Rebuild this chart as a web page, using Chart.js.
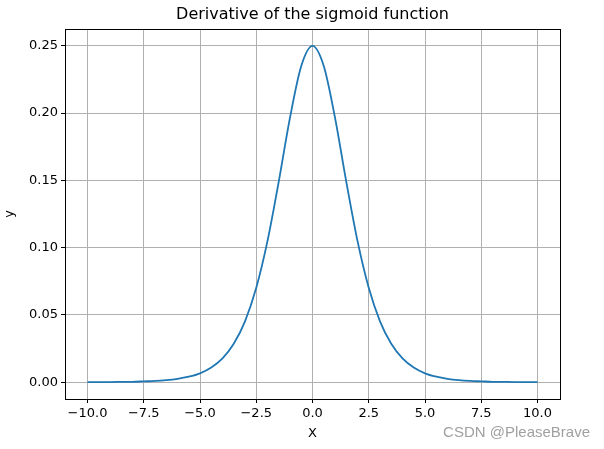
<!DOCTYPE html>
<html>
<head>
<meta charset="utf-8">
<script src="https://cdn.jsdelivr.net/npm/chart.js@4"></script>
<style>
  html, body { margin: 0; padding: 0; background: #fff; }
  #wrap { width: 604px; height: 449px; }
</style>
</head>
<body>
<div id="wrap"><canvas id="chart" width="604" height="449"></canvas></div>
<script>
const xValues = [-10, -9.5, -9, -8.5, -8, -7.5, -7, -6.5, -6, -5.5, -5, -4.5, -4, -3.5, -3, -2.5, -2, -1.5, -1, -0.5,
  0, 0.5, 1, 1.5, 2, 2.5, 3, 3.5, 4, 4.5, 5, 5.5, 6, 6.5, 7, 7.5, 8, 8.5, 9, 9.5, 10];
const yValues = [0.0000, 0.0001, 0.0001, 0.0002, 0.0003, 0.0006, 0.0009, 0.0015, 0.0025, 0.0041, 0.0066, 0.0109, 0.0177, 0.0285, 0.0452, 0.0701, 0.1050, 0.1491, 0.1966, 0.2350,
  0.2500, 0.2350, 0.1966, 0.1491, 0.1050, 0.0701, 0.0452, 0.0285, 0.0177, 0.0109, 0.0066, 0.0041, 0.0025, 0.0015, 0.0009, 0.0006, 0.0003, 0.0002, 0.0001, 0.0001, 0.0000];
const xTicks = [-10, -7.5, -5, -2.5, 0, 2.5, 5, 7.5, 10];
const yTicks = [0, 0.05, 0.10, 0.15, 0.20, 0.25];
const TITLE = "Derivative of the sigmoid function";

const FONT = "'DejaVu Sans', sans-serif";
const minus = (s) => s.replace("-", "\u2212");

// frame on all four sides, title centred over the plot area, watermark
const frameAndMark = {
  id: "frameAndMark",
  afterDraw(chart) {
    const { ctx, chartArea: a } = chart;
    ctx.save();
    ctx.strokeStyle = "#000";
    ctx.lineWidth = 1;
    ctx.strokeRect(Math.round(a.left) + 0.5, Math.round(a.top) + 0.5,
      Math.round(a.right - a.left), Math.round(a.bottom - a.top));

    ctx.fillStyle = "#000";
    ctx.font = "16px " + FONT;
    ctx.textAlign = "center";
    ctx.textBaseline = "middle";
    ctx.fillText(TITLE, (a.left + a.right) / 2, 15);

    ctx.fillStyle = "#a0a0a0";
    ctx.font = "15px 'Liberation Sans', sans-serif";
    ctx.textAlign = "right";
    ctx.fillText("CSDN @PleaseBrave", 590, 433);
    ctx.restore();
  },
};

new Chart(document.getElementById("chart"), {
  type: "line",
  data: {
    datasets: [{
      data: xValues.map((x, i) => ({ x, y: yValues[i] })),
      borderColor: "#1f77b4",
      borderWidth: 1.8,
      pointRadius: 0,
      cubicInterpolationMode: "monotone",
      fill: false,
    }],
  },
  options: {
    responsive: false,
    animation: false,
    layout: { padding: { left: 0, right: 44, top: 29, bottom: 0 } },
    plugins: {
      legend: { display: false },
      tooltip: { enabled: false },
      title: { display: false },
    },
    scales: {
      x: {
        type: "linear",
        min: -11,
        max: 11,
        afterBuildTicks: (axis) => { axis.ticks = xTicks.map((v) => ({ value: v })); },
        afterFit: (axis) => { axis.height = 50; },
        ticks: {
          color: "#000",
          font: { family: FONT, size: 13 },
          padding: 3,
          maxRotation: 0,
          callback: (v) => minus(Number(v).toFixed(1)),
        },
        grid: { color: "#b0b0b0", lineWidth: 1, tickColor: "#000", tickLength: 4 },
        border: { color: "#000" },
        title: { display: true, text: "X", color: "#000", font: { family: FONT, size: 13 }, padding: { top: 0, bottom: 8 } },
      },
      y: {
        type: "linear",
        min: -0.0125,
        max: 0.2625,
        afterBuildTicks: (axis) => { axis.ticks = yTicks.map((v) => ({ value: v })); },
        afterFit: (axis) => { axis.width = 65; },
        ticks: {
          color: "#000",
          font: { family: FONT, size: 13 },
          padding: 3,
          callback: (v) => Number(v).toFixed(2),
        },
        grid: { color: "#b0b0b0", lineWidth: 1, tickColor: "#000", tickLength: 4 },
        border: { color: "#000" },
        title: { display: true, text: "y", color: "#000", font: { family: FONT, size: 13 }, padding: { top: 2, bottom: 0 } },
      },
    },
  },
  plugins: [frameAndMark],
});
</script>
</body>
</html>
